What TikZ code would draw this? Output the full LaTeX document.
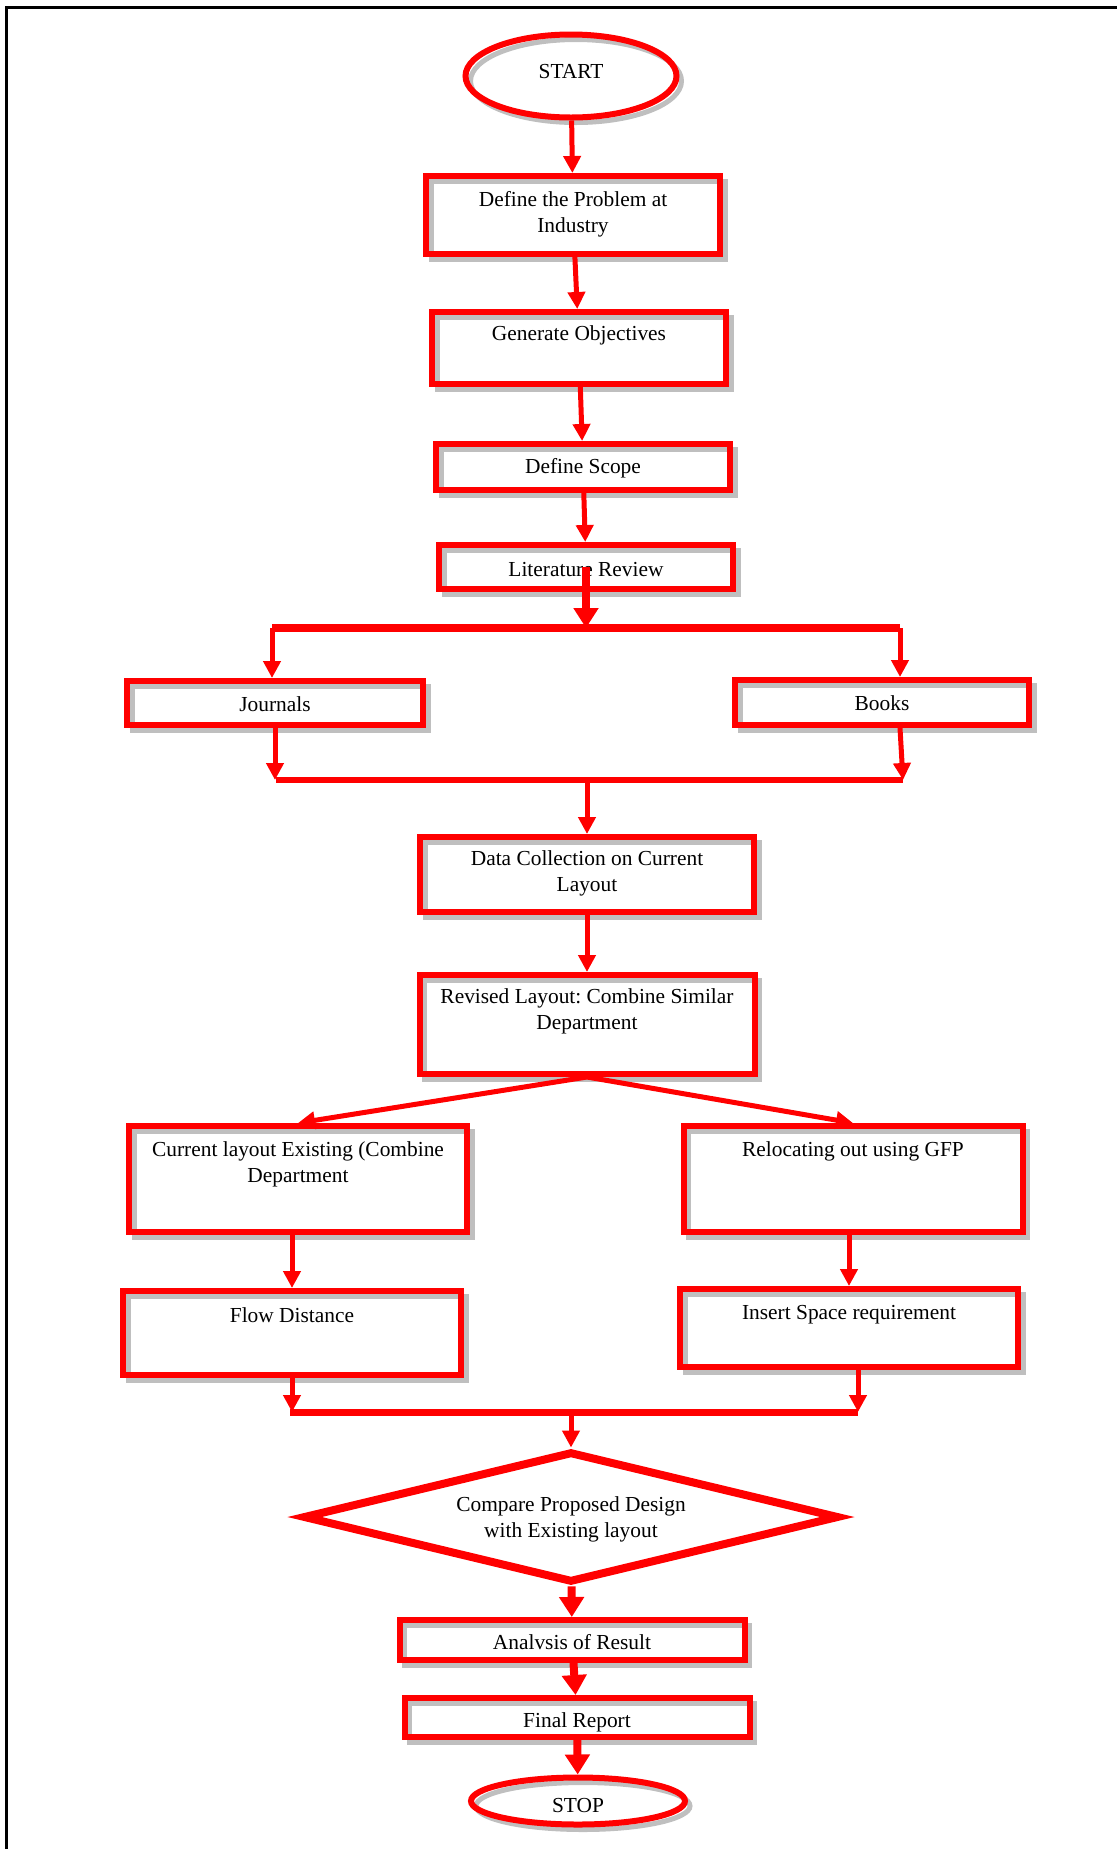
\documentclass[tikz,border=0pt]{standalone}
\usepackage{fontspec}
\setmainfont{Liberation Serif}
\usetikzlibrary{arrows.meta,shapes.geometric}
\definecolor{shade}{RGB}{191,191,191}
\begin{document}
\begin{tikzpicture}[x=0.5pt,y=-0.5pt,
  font=\fontsize{10.7}{13}\selectfont\frenchspacing,
  >={Triangle[length=8.5pt,width=8.5pt]},
  shadowed/.style={preaction={draw=shade,line width=2.5pt,
    transform canvas={shift={(2.5pt,-2.5pt)}}}},
  block/.style={shadowed,draw=red,line width=3pt,rectangle,anchor=north,
    align=center,inner xsep=0pt,inner ysep=0pt},
  dims/.style n args={3}{minimum width=#1,text height=#2,text depth=#3},
  term/.style={shadowed,draw=red,line width=3pt,ellipse,inner sep=0pt},
  decision/.style={draw=red,line width=4pt,diamond,aspect=4.09,
    minimum width=268pt,minimum height=65.5pt,inner sep=0pt,align=center,
    text height=25pt,text depth=5pt},
  link/.style={draw=red,line width=2.5pt,->},
  biglink/.style={link,line width=4pt,>={Triangle[length=10pt,width=12pt]}},
  bus/.style={draw=red,line width=4pt}]
  \useasboundingbox (0,0) rectangle (1117,1849);
  \draw[line width=1.5pt] (6,1849) -- (6,7) -- (1117,7);

  \node (start) [term,minimum width=105.5pt,minimum height=41.5pt,
    text height=8pt,text depth=6pt] at (571,76) {START};
  \node (prob) [block,dims={147pt}{28pt}{11pt}] at (573,173)
    {Define the Problem at\\Industry};
  \node (goal) [block,dims={147pt}{14pt}{22pt}] at (579,309) {Generate Objectives};
  \node (scope) [block,dims={147pt}{14.5pt}{8.5pt}] at (583,441) {Define Scope};
  \node (lit) [block,dims={147pt}{15.5pt}{6.5pt}] at (586,542) {Literature Review};
  \node (jour) [block,dims={148pt}{15pt}{7pt}] at (275,678) {Journals};
  \node (books) [block,dims={147pt}{15pt}{7.5pt}] at (882,677) {Books};
  \node (data) [block,dims={167pt}{27pt}{10.5pt}] at (587,834)
    {Data Collection on Current\\Layout};
  \node (rev) [block,dims={167.5pt}{27pt}{22.5pt}] at (587,972)
    {Revised Layout: Combine Similar\\Department};
  \node (cur) [block,dims={169pt}{28pt}{25pt}] at (298,1123)
    {Current layout Existing (Combine\\Department};
  \node (reloc) [block,dims={169.5pt}{15pt}{38pt}] at (853,1123)
    {Relocating out using GFP};
  \node (flow) [block,dims={169pt}{15.5pt}{26.5pt}] at (292,1288) {Flow Distance};
  \node (space) [block,dims={169pt}{15pt}{24pt}] at (849,1286)
    {Insert Space requirement};
  \node (cmp) [decision] at (571,1517) {Compare Proposed Design\\with Existing layout};
  \node (ana) [block,dims={172.5pt}{14.5pt}{5.5pt}] at (572,1617) {Analvsis of Result};
  \node (fin) [block,dims={172.5pt}{14.5pt}{5pt}] at (577,1695) {Final Report};
  \node (stop) [term,minimum width=107pt,minimum height=23.5pt,
    text height=12pt,text depth=1pt] at (578,1801) {STOP};

  \coordinate (splitL) at (272,628);
  \coordinate (splitR) at (900,628);
  \coordinate (joinL) at (276,780);
  \coordinate (joinR) at (903,780);
  \coordinate (mergeL) at (290,1412);
  \coordinate (mergeR) at (858,1412);

  \draw[link] (start) -- (prob);
  \draw[link] (prob) -- (goal);
  \draw[link] (goal) -- (scope);
  \draw[link] (scope) -- (lit);
  \draw[biglink] (lit.center) -- (lit.center |- splitL);
  \draw[bus] (splitL) -- (splitR);
  \draw[link] (splitL) -- (splitL |- jour.north);
  \draw[link] (splitR) -- (splitR |- books.north);
  \draw[link] (jour.south) -- (jour.south |- joinL);
  \draw[link] (splitR |- books.south) -- (joinR);
  \draw[bus,line width=3pt] (joinL) -- (joinR);
  \draw[link] (data.north |- joinL) -- (data);
  \draw[link] (data) -- (rev);
  \draw[link] (rev.south) -- (cur.north);
  \draw[link] (rev.south) -- (reloc.north);
  \draw[link] (cur.south -| flow.north) -- (flow);
  \draw[link] (reloc.south -| space.north) -- (space);
  \draw[link] (flow.south) -- (flow.south |- mergeL);
  \draw[link] (space.south -| mergeR) -- (mergeR);
  \draw[bus,line width=3.5pt] (mergeL) -- (mergeR);
  \draw[link] (cmp.north |- mergeL) -- (cmp);
  \draw[biglink] (cmp) -- (ana);
  \draw[biglink] (ana) -- (fin);
  \draw[biglink] (fin) -- (stop);
\end{tikzpicture}
\end{document}
